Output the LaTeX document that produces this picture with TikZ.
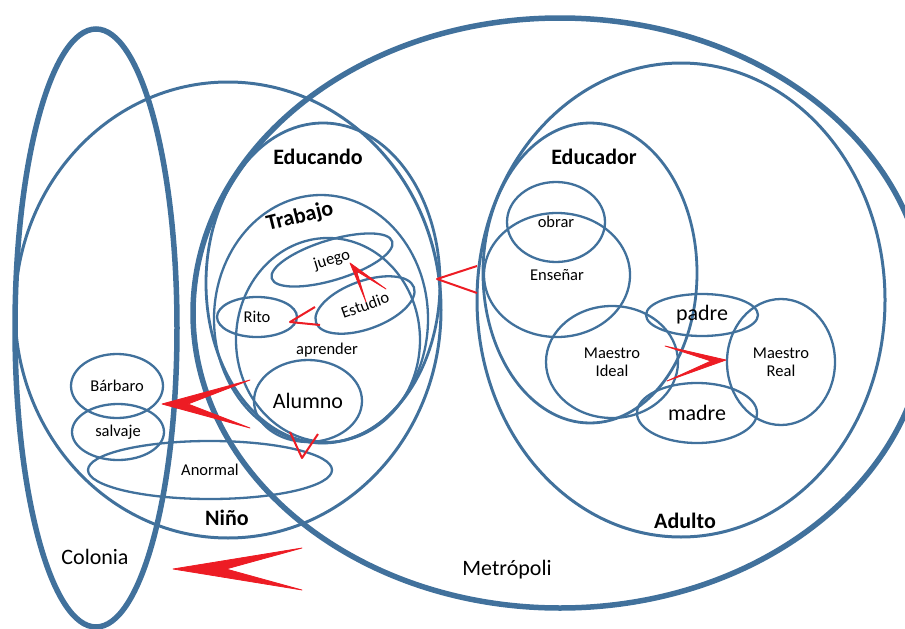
\documentclass[tikz,border=0pt]{standalone}
\usepackage{fontspec}
\setmainfont{Carlito}
\usetikzlibrary{shapes.geometric}

\definecolor{setblue}{HTML}{41719C}
\definecolor{markred}{HTML}{ED1C24}

% filled chevron: tip, notch, first end, second end
\newcommand{\chevron}[4]{\filldraw[markred, line width=0.8pt, line join=round] #1 -- #3 -- #2 -- #4 -- cycle;}

\begin{document}
\begin{tikzpicture}[x=1pt, y=-1pt,
    set/.style={ellipse, draw=setblue, line width=2.3pt, inner sep=0pt},
    small/.style={font=\fontsize{16.5}{18}\selectfont},
    large/.style={font=\fontsize{22}{24}\selectfont},
    title/.style={font=\bfseries\fontsize{22}{24}\selectfont}]
      \useasboundingbox (0,0) rectangle (905,629);

      % outer sets
      \node[set, line width=5.5pt, minimum width=162pt, minimum height=598pt] (colonia) at (96,328) {};
      \node[set, line width=5.5pt, minimum width=734pt, minimum height=590pt] (metropoli) at (560,313) {};
      \node[set, line width=3pt, minimum width=426pt, minimum height=456pt] (nino) at (228,310) {};
      \node[set, line width=3pt, minimum width=408pt, minimum height=474pt] (adulto) at (681,300) {};
      \node[set, line width=2.8pt, minimum width=234pt, minimum height=320pt] (educando) at (323,283) {};
      \node[set, line width=2.8pt, minimum width=214pt, minimum height=300pt] (educador) at (590,273) {};
      \node[set, minimum width=214pt, minimum height=248pt] (trabajo) at (321,319) {};
      \node[set, minimum width=184pt, minimum height=204pt] (aprender) at (328,340) {};

      \node[large] (coloniatext) at (95,557) {Colonia};
      \node[large] (metropolitext) at (507,570) {Metrópoli};
      \node[title] (ninotext) at (227,518) {Niño};
      \node[title] (adultotext) at (685,521) {Adulto};
      \node[title] (educandotext) at (318,157) {Educando};
      \node[title] (educadortext) at (594,157) {Educador};
      \node[title, rotate=14] (trabajotext) at (300,217) {Trabajo};
      \node[small] (aprendertext) at (327,350) {aprender};

      % inner sets
      \node[set, small, rotate=17, minimum width=126pt, minimum height=40pt] (juego) at (332,260) {juego};
      \node[set, small, rotate=20, minimum width=104pt, minimum height=48pt] (estudio) at (365,305) {Estudio};
      \node[set, small, minimum width=80pt, minimum height=40pt] (rito) at (257,317) {Rito};
      \node[set, large, minimum width=108pt, minimum height=82pt] (alumno) at (308,401) {Alumno};
      \node[set, small, minimum width=92pt, minimum height=64pt] (barbaro) at (117,386) {Bárbaro};
      \node[set, small, minimum width=92pt, minimum height=56pt] (salvaje) at (118,432) {salvaje};
      \node[set, small, minimum width=244pt, minimum height=58pt] (anormal) at (210,470) {Anormal};
      \node[set, small, minimum width=98pt, minimum height=80pt] (obrar) at (556,222) {obrar};
      \node[set, small, minimum width=146pt, minimum height=124pt] (ensenar) at (557,275) {Enseñar};
      \node[set, small, align=center, minimum width=132pt, minimum height=112pt] (ideal) at (612,362) {Maestro\\Ideal};
      \node[set, large, minimum width=112pt, minimum height=42pt] (padre) at (702,315) {padre};
      \node[set, small, align=center, minimum width=108pt, minimum height=126pt] (real) at (781,362) {Maestro\\Real};
      \node[set, large, minimum width=120pt, minimum height=60pt] (madre) at (697,413) {madre};

      % red marks
      \chevron{(173,569)}{(226,569)}{(302,548)}{(302,590)}
      \chevron{(162,404)}{(188,404)}{(250,380)}{(250,428)}
      \chevron{(350,263)}{(356.5,271)}{(366,302)}{(386,289)}
      \chevron{(726,360)}{(711,361)}{(665,346)}{(667,381)}
      \draw[markred, line width=2pt, line join=round] (477,266) -- (437,279) -- (477,293);
      \draw[markred, line width=2pt, line join=round] (315,307) -- (290,322) -- (320,325);
      \draw[markred, line width=2pt, line join=round] (290,432) -- (302,458) -- (318,434);
\end{tikzpicture}
\end{document}
